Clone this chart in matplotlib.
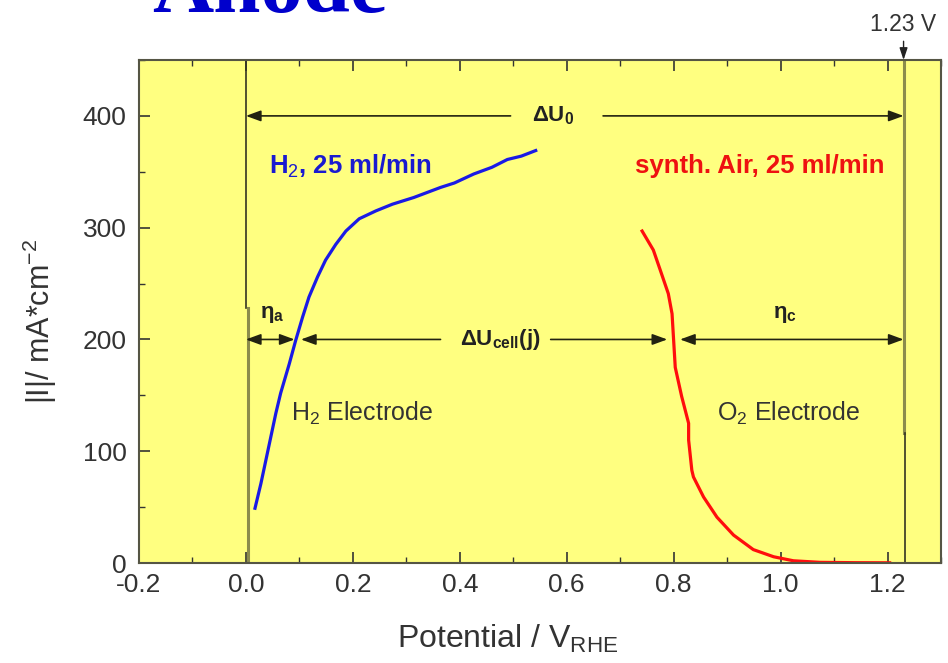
import numpy as np
import matplotlib
matplotlib.use("Agg")
import matplotlib.pyplot as plt
from matplotlib.ticker import MultipleLocator

plt.rcParams['font.family'] = ['Liberation Sans', 'DejaVu Sans']
plt.rcParams['mathtext.fontset'] = 'custom'
plt.rcParams['mathtext.rm'] = 'Liberation Sans'
plt.rcParams['mathtext.it'] = 'Liberation Sans:italic'
plt.rcParams['mathtext.bf'] = 'Liberation Sans:bold'

# H2 electrode (anode) polarisation curve
h2_x = [0.017, 0.028, 0.044, 0.056, 0.065, 0.081, 0.093, 0.106, 0.118, 0.134,
        0.149, 0.168, 0.187, 0.212, 0.243, 0.274, 0.314, 0.364, 0.390, 0.426,
        0.460, 0.489, 0.515, 0.542]
h2_j = [49, 71, 107, 134, 152, 178, 199, 220, 238, 256,
        271, 285, 297, 308, 315, 321, 327, 336, 340, 348,
        354, 361, 364, 369]

# O2 electrode (cathode, synth. air)
o2_x = [0.741, 0.762, 0.775, 0.790, 0.797, 0.800, 0.803, 0.815, 0.828, 0.828,
        0.834, 0.837, 0.856, 0.881, 0.912, 0.949, 0.987, 1.024, 1.074, 1.140,
        1.204]
o2_j = [297, 280, 262, 241, 223, 199, 175, 149, 125, 110,
        83, 77, 59, 41, 25, 12, 5.6, 2.0, 0.6, 0.3,
        0.2]

x_ticks = [-0.2, 0.0, 0.2, 0.4, 0.6, 0.8, 1.0, 1.2]
y_ticks = [0, 100, 200, 300, 400]

u_rev = 1.23      # reversible cell voltage
j_op = 200        # current density of the marked operating point
j_du0 = 400
x_h2_op = 0.095   # where the H2 curve crosses j_op
x_o2_op = 0.800   # where the O2 curve crosses j_op

yellow = '#ffff80'
olive = '#8c8c4c'
dark = '#333322'

fig = plt.figure(figsize=(9.48, 6.63), dpi=100)
ax = fig.add_axes([0.1466, 0.1508, 0.846, 0.7587])
ax.set_facecolor(yellow)

ax.set_xlim(-0.2, 1.3)
ax.set_ylim(0, 450)

# vertical reference lines at 0 V and 1.23 V
ax.plot([0, 0], [228, 450], color=dark, lw=1.2)
ax.plot([0.003, 0.003], [0, 228], color=olive, lw=2.2)
ax.plot([u_rev, u_rev], [116, 450], color=olive, lw=2.2)
ax.plot([u_rev + 0.003, u_rev + 0.003], [0, 116], color=dark, lw=1.2)

ax.plot(h2_x, h2_j, color='#1a1ae6', lw=2.3)
ax.plot(o2_x, o2_j, color='#ff0d0d', lw=2.3)


def arrow(x0, x1, y, style):
    ax.annotate('', xy=(x1, y), xytext=(x0, y),
                arrowprops=dict(arrowstyle=style + ',head_length=0.6,head_width=0.22',
                                mutation_scale=15, color='#222211', lw=1.2,
                                shrinkA=0, shrinkB=0))


# Delta U0 at 400
arrow(0.495, 0.0, j_du0, '-|>')
arrow(0.668, u_rev, j_du0, '-|>')
ax.text(0.575, j_du0, r'$\mathbf{\Delta U_0}$', ha='center', va='center', fontsize=16, color='#222')

# operating point at 200
arrow(0.0, x_h2_op - 0.004, j_op, '<|-|>')
arrow(0.364, x_h2_op + 0.008, j_op, '-|>')
arrow(0.570, x_o2_op - 0.012, j_op, '-|>')
arrow(x_o2_op + 0.012, u_rev, j_op, '<|-|>')
ax.text(0.476, j_op, r'$\mathbf{\Delta U_{cell}(j)}$', ha='center', va='center', fontsize=16, color='#222')
ax.text(0.05, 222, r'$\mathbf{\eta_a}$', ha='center', va='center', fontsize=16, color='#222')
ax.text(1.008, 222, r'$\mathbf{\eta_c}$', ha='center', va='center', fontsize=16, color='#222')

ax.text(0.043, 355, r'H$_2$, 25 ml/min', color='#1a1ad0', fontsize=18.5, fontweight='bold', va='center', ha='left')
ax.text(1.195, 355, 'synth. Air, 25 ml/min', color='#ee1111', fontsize=18.5, fontweight='bold', va='center', ha='right')
ax.text(0.084, 134, r'H$_2$ Electrode', color='#333', fontsize=18, va='center', ha='left')
ax.text(0.881, 134, r'O$_2$ Electrode', color='#333', fontsize=18, va='center', ha='left')

ax.annotate('1.23 V', xy=(u_rev, 450), xytext=(u_rev, 482), textcoords='data',
            ha='center', va='center', fontsize=16.5, color='#333', annotation_clip=False,
            arrowprops=dict(arrowstyle='-|>,head_length=0.6,head_width=0.2', mutation_scale=12,
                            color='#222', lw=1.0, shrinkA=2, shrinkB=0))

ax.set_xticks(x_ticks)
ax.set_xticklabels(['%.1f' % v for v in x_ticks])
ax.set_yticks(y_ticks)
ax.xaxis.set_minor_locator(MultipleLocator(0.1))
ax.yaxis.set_minor_locator(MultipleLocator(50))
ax.tick_params(which='both', direction='in', top=True, right=False, colors='#333', labelcolor='#333')
ax.tick_params(which='major', length=8, width=1.2, labelsize=19, pad=7)
ax.tick_params(axis='y', which='major', pad=9)
ax.tick_params(which='minor', length=4, width=1.0)
for s in ax.spines.values():
    s.set_color('#555544')
    s.set_linewidth(1.5)

ax.set_xlabel(r'Potential / V$_{\mathrm{RHE}}$', fontsize=23, color='#333')
ax.xaxis.set_label_coords(0.46, -0.12)
ax.set_ylabel(r'|I|/ mA*cm$^{-2}$', fontsize=22, color='#333')
ax.yaxis.set_label_coords(-0.100, 0.48)

fig.text(0.160, 0.982, 'Anode', ha='left', va='baseline', fontsize=61,
         family='Liberation Serif', fontweight='bold', color='#0000cc')

fig.savefig('out.png', dpi=100)
